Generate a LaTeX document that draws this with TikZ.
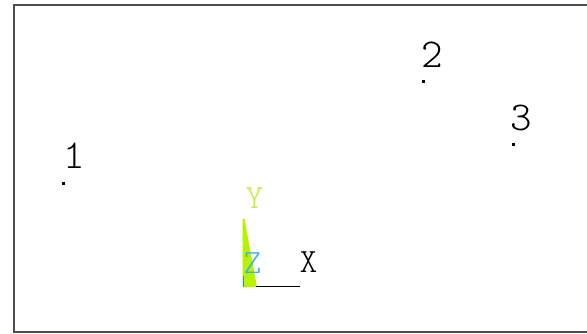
\documentclass[tikz,border=0pt]{standalone}
\definecolor{framegray}{rgb}{0.30,0.30,0.30}
\definecolor{ygreen}{rgb}{0.74,0.95,0.25}
\definecolor{trigreen}{rgb}{0.72,0.95,0.00}
\definecolor{zcyan}{rgb}{0.20,0.70,0.95}
\definecolor{zblue}{rgb}{0.15,0.55,0.95}
\tikzset{
  numlabel/.style={inner sep=0pt, font=\fontseries{l}\ttfamily\fontsize{41}{43}\selectfont},
  axlabel/.style={inner sep=0pt, font=\fontseries{l}\ttfamily\fontsize{34}{36}\selectfont},
  kpdot/.style={fill=black, inner sep=0pt, minimum size=2.2pt, rectangle}
}
\begin{document}
\begin{tikzpicture}[x=1pt,y=-1pt]
\useasboundingbox (0,0) rectangle (587,334);
\fill[white] (0,0) rectangle (587,334);
% frame
\draw[framegray, line width=2pt] (588,5) -- (14,5) -- (14,332) -- (588,332);
% keypoints
\node[kpdot] (p1) at (63.5,183.5) {};
\node[kpdot] (p2) at (423.5,81.5) {};
\node[kpdot] (p3) at (513.5,144.5) {};
\node[numlabel] (l1) at (74.5,156) {1};
\node[numlabel] (l2) at (432.5,54.5) {2};
\node[numlabel] (l3) at (521,117.5) {3};
% triad
\fill[trigreen] (242.5,219) -- (244.5,219) -- (257,287) -- (242.5,287) -- cycle;
\draw[zblue, line width=1.2pt] (243.5,276) -- (243.5,287);
\coordinate (o) at (256,286.5);
\coordinate (xe) at (300,286.5);
\draw[black, line width=1.5pt] (o) -- (xe);
\node[axlabel, text=ygreen] (ly) at (254.5,198.5) {Y};
\node[axlabel, text=zcyan] (lz) at (252.5,263) {Z};
\node[axlabel, text=black] (lx) at (308.5,262.5) {X};
\end{tikzpicture}
\end{document}
